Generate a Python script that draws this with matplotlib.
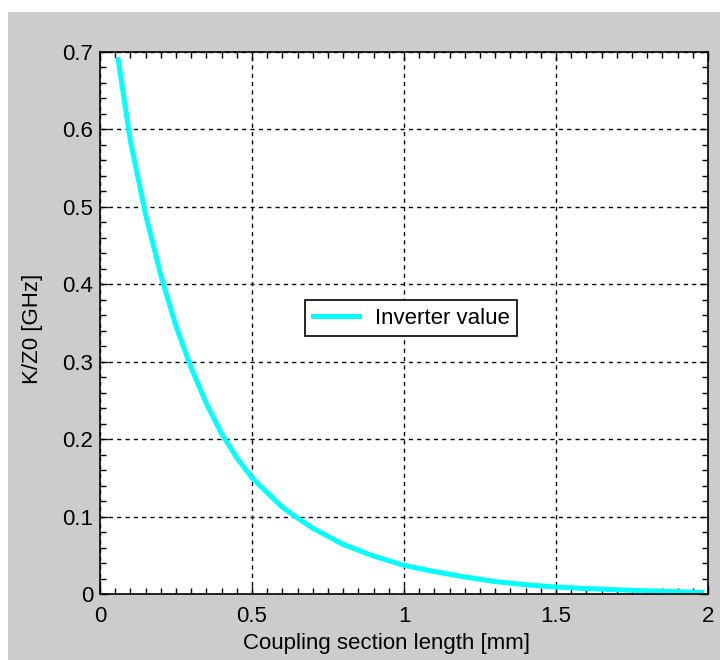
import matplotlib.pyplot as plt
import numpy as np
from matplotlib.ticker import MultipleLocator, FormatStrFormatter
from matplotlib.patches import Rectangle

plt.rcParams['font.family'] = ['Liberation Sans', 'DejaVu Sans']

# coupling section length [mm] and inverter value K/Z0 [GHz]
length_mm = [0.06, 0.1, 0.15, 0.2, 0.25, 0.3, 0.35, 0.4, 0.45, 0.5, 0.6, 0.65,
             0.7, 0.8, 0.9, 1.0, 1.1, 1.2, 1.3, 1.4, 1.5, 1.6, 1.7, 1.8, 1.9, 1.98]
k_z0 = [0.69, 0.585, 0.49, 0.412, 0.346, 0.292, 0.246, 0.207, 0.176, 0.15, 0.112, 0.098,
        0.085, 0.064, 0.049, 0.037, 0.029, 0.022, 0.016, 0.012, 0.009, 0.007,
        0.0055, 0.004, 0.003, 0.002]

fig = plt.figure(figsize=(7.2, 6.6), dpi=100, facecolor='white')
fig.patches.append(Rectangle((8 / 720, 0), 1, 1 - 12 / 660, transform=fig.transFigure,
                             facecolor='#cccccc', edgecolor='none', zorder=-10))
ax = fig.add_axes([100 / 720, 66 / 660, 608 / 720, 542 / 660])

ax.plot(length_mm, k_z0, color='#00ffff', lw=3.6, label='Inverter value')

ax.set_xlim(0, 2)
ax.set_ylim(0, 0.7)
ax.xaxis.set_major_locator(MultipleLocator(0.5))
ax.xaxis.set_minor_locator(MultipleLocator(0.05))
ax.yaxis.set_major_locator(MultipleLocator(0.1))
ax.yaxis.set_minor_locator(MultipleLocator(0.02))
ax.xaxis.set_major_formatter(FormatStrFormatter('%g'))
ax.yaxis.set_major_formatter(FormatStrFormatter('%g'))
ax.tick_params(which='both', direction='in', top=True, right=True, labelsize=16, width=1)
ax.tick_params(which='major', length=6)
ax.tick_params(which='minor', length=4)
ax.tick_params(axis='x', which='major', pad=9)
ax.tick_params(axis='y', which='major', pad=5)
ax.grid(True, which='major', color='black', linestyle=(0, (3, 3)), linewidth=1)
for s in ax.spines.values():
    s.set_linewidth(1.2)

ax.set_xlabel('Coupling section length [mm]', fontsize=16)
ax.set_ylabel('K/Z0 [GHz]', fontsize=16)
ax.xaxis.set_label_coords(0.472, -0.072)
ax.yaxis.set_label_coords(-0.094, 0.49)

leg = ax.legend(loc='center', bbox_to_anchor=(0.512, 0.509), fontsize=16,
                fancybox=False, framealpha=1, edgecolor='black', handlelength=2.1,
                handletextpad=0.7, borderpad=0.33)
leg.get_frame().set_linewidth(1.2)

fig.savefig('out.png', dpi=100, facecolor=fig.get_facecolor())
